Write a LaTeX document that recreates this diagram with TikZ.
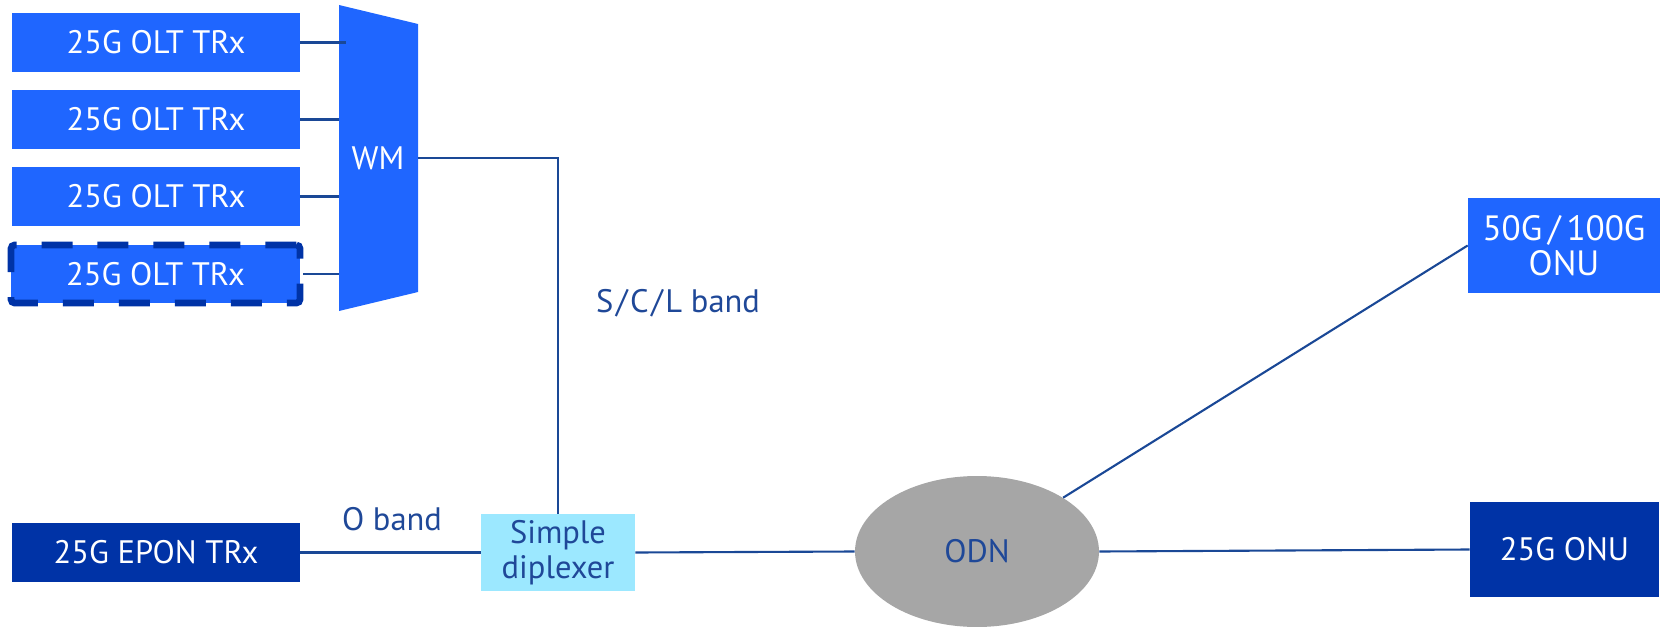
\documentclass[tikz,border=0pt]{standalone}
\usepackage{fontspec}
\setmainfont{PT Sans}
\usepackage{xcolor}
\usepackage{tikz}
\usetikzlibrary{shapes.geometric, positioning}
\definecolor{brightblue}{HTML}{1F66FF}
\definecolor{deepblue}{HTML}{0033A6}
\definecolor{wireblue}{HTML}{1A4896}
\definecolor{labelblue}{HTML}{1F4898}
\definecolor{diplexcyan}{HTML}{9CE8FF}
\definecolor{odngray}{HTML}{A6A6A6}
\tikzset{
  trx/.style={fill=brightblue, text=white, inner sep=0pt, minimum width=5.76cm, minimum height=1.18cm},
  trxdark/.style={trx, fill=deepblue},
  wire/.style={draw=wireblue, line width=1.2pt},
  bandlabel/.style={text=labelblue, inner sep=0pt}
}
\begin{document}
\begin{tikzpicture}[x=0.02cm, y=-0.02cm, font=\fontsize{18.5}{21}\selectfont]
  \useasboundingbox (0,0) rectangle (1662,628);
  \fill[brightblue] (339,5) -- (418,24) -- (418,292) -- (339,311) -- cycle;
  \node[text=white, inner sep=0pt] (wm) at (378,158) {WM};
  \coordinate (wmL) at (339,158);
  \coordinate (wmR) at (418,158);
  \node[trx] (olt1) at (156,42.5) {25G OLT TRx};
  \node[trx] (olt2) at (156,119.5) {25G OLT TRx};
  \node[trx] (olt3) at (156,196.5) {25G OLT TRx};
  \node[trx, draw=deepblue, line width=3.8pt, dash pattern=on 0.62cm off 0.5cm, rounded corners=2pt,
        minimum width=5.78cm, minimum height=1.16cm] (olt4) at (155.5,274) {25G OLT TRx};
  \node[trxdark] (epon) at (156,552.5) {25G EPON TRx};
  \node[fill=diplexcyan, text=labelblue, inner sep=0pt, minimum width=3.08cm, minimum height=1.54cm,
        align=center, font=\fontsize{18.5}{20}\selectfont] (dip) at (558,552.5) {Simple\\diplexer};
  \node[ellipse, fill=odngray, text=labelblue, inner sep=0pt, minimum width=4.88cm, minimum height=3.02cm] (odn) at (977,551.5) {ODN};
  \node[trx, align=center, minimum width=3.84cm, minimum height=1.9cm, font=\fontsize{20}{20}\selectfont] (onu50) at (1564,245.5) {50G\,/\,100G\\ONU};
  \node[trxdark, minimum width=3.78cm, minimum height=1.9cm] (onu25) at (1564.5,549.5) {25G ONU};
  \node[bandlabel] (scl) at (678,303) {S\kern1.5pt/\kern1.5pt C\kern1.5pt/\kern1.5pt L band};
  \node[bandlabel] (oband) at (392,519) {O band};
  \draw[wire] (olt1.east) -- ([xshift=4pt]olt1.east -| wmL);
  \draw[wire] (olt2.east) -- (olt2.east -| wmL);
  \draw[wire] (olt3.east) -- (olt3.east -| wmL);
  \draw[wire] (olt4.east) -- (olt4.east -| wmL);
  \draw[wire] (wmR) -| (dip.north);
  \draw[wire] (epon.east) -- (dip.west);
  \draw[wire] (dip.east) -- (odn.west);
  \draw[wire] (odn.east) -- (onu25.west);
  \draw[wire] (odn.32) -- (onu50.west);
\end{tikzpicture}
\end{document}
